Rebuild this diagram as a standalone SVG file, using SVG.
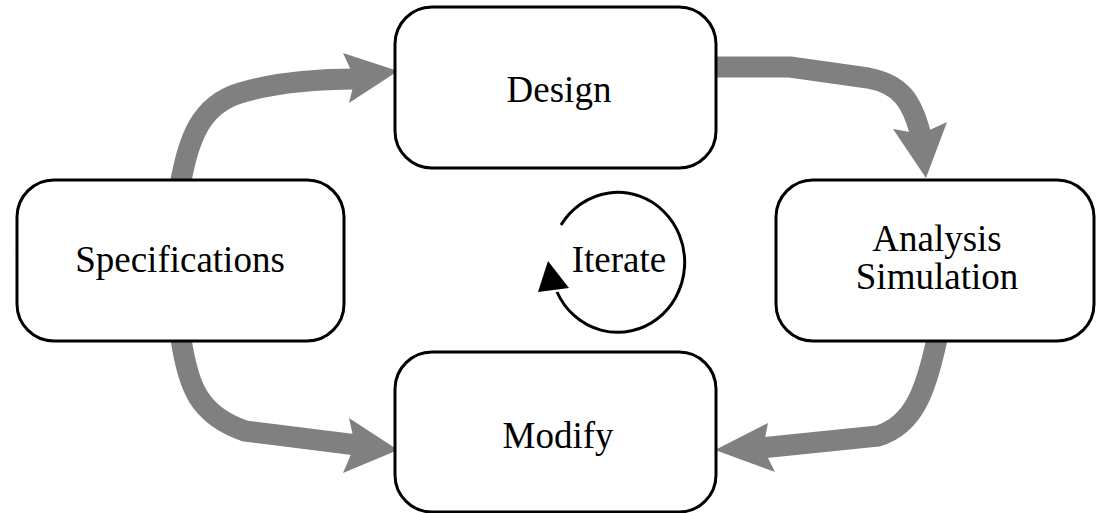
<svg xmlns="http://www.w3.org/2000/svg" width="1098" height="513" viewBox="0 0 1098 513">
<style>
.box{fill:#fff;stroke:#000;stroke-width:3}
.lbl{font-family:'Liberation Serif','DejaVu Serif','Times New Roman',serif;font-size:37px;fill:#000;text-anchor:middle}
.shaft{fill:none;stroke:#808080;stroke-width:21;stroke-linejoin:round}
.head{fill:#808080;stroke:none}
</style>
<rect width="1098" height="513" fill="#fff"/>
<g id="connectors">
<path class="shaft" d="M180,186 C188,140 200,105 240,93 S320,79 357,79"/>
<polygon class="head" points="343,53 398,71 349,103 355,79"/>
<path class="shaft" d="M714,67 L790,67 L868,78 C900,84 912,100 921,136"/>
<polygon class="head" points="893,129 921,134 947,122 926,178"/>
<path class="shaft" d="M937,339 C926,390 914,425 878,436 L761,448"/>
<polygon class="head" points="768,423 763,448 775,472 715,450"/>
<path class="shaft" d="M181,339 C188,385 198,415 245,431 L357,445"/>
<polygon class="head" points="349,418 398,450 343,473 355,445"/>
</g>
<g id="node-design">
<rect class="box" x="395" y="7" width="321" height="161" rx="37" ry="37"/>
<text class="lbl" x="559" y="102">Design</text>
</g>
<g id="node-specifications">
<rect class="box" x="17" y="180" width="327" height="161" rx="37" ry="37"/>
<text class="lbl" x="180" y="272">Specifications</text>
</g>
<g id="node-analysis">
<rect class="box" x="776" y="180" width="318" height="161" rx="37" ry="37"/>
<text class="lbl" x="937" y="251">Analysis</text>
<text class="lbl" x="937" y="289">Simulation</text>
</g>
<g id="node-modify">
<rect class="box" x="395" y="352" width="321" height="160" rx="37" ry="37"/>
<text class="lbl" x="558" y="448">Modify</text>
</g>
<g id="iterate">
<path d="M561,225 A67,70 0 1 1 557,292" fill="none" stroke="#000" stroke-width="3"/>
<polygon points="548,261 538,292 569,288" fill="#000"/>
<text class="lbl" x="619" y="272">Iterate</text>
</g>
</svg>
